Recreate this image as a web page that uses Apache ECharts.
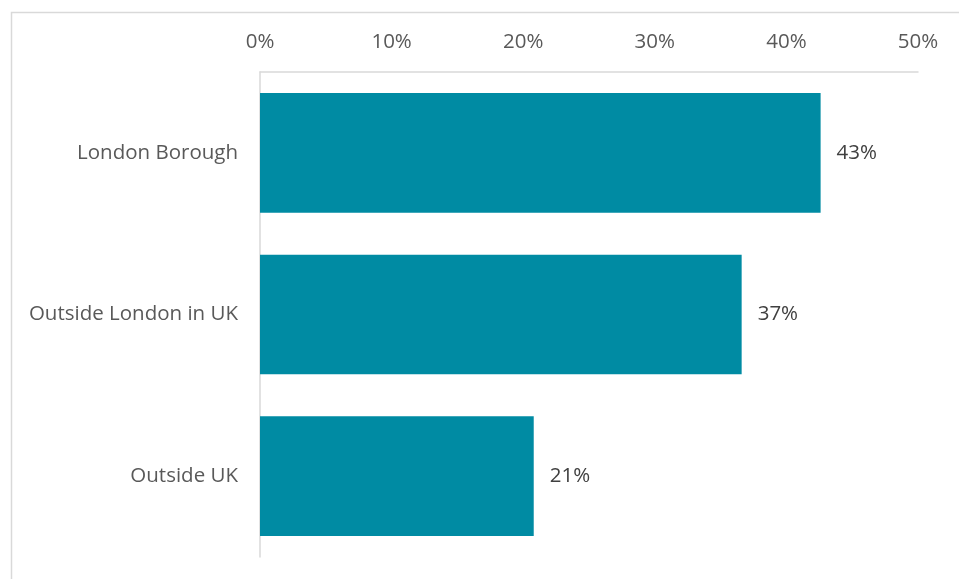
<!DOCTYPE html>
<html><head><meta charset="utf-8">
<script src="https://cdn.jsdelivr.net/npm/echarts@6/dist/echarts.min.js"></script>
<style>html,body{margin:0;padding:0;background:#fff}#c{width:959px;height:579px}</style>
</head><body><div id="c"></div>
<script>
const categories = ["London Borough", "Outside London in UK", "Outside UK"];
const values = [42.6, 36.6, 20.8];
const tickLabels = ["0%", "10%", "20%", "30%", "40%", "50%"];

const chart = echarts.init(document.getElementById('c'));
const font = 'Open Sans';
chart.setOption({
  animation: false,
  graphic: [{type:'rect', left: 9, top: 10, shape:{width: 1000, height: 1000}, style:{fill:'none', stroke:'#d9d9d9', lineWidth:1.5}, silent:true}],
  grid: {left: 260, right: 41, top: 72, bottom: 22},
  xAxis: {
    type: 'value', position: 'top', min: 0, max: 50, interval: 10,
    axisLine: {show: true, lineStyle: {color: '#d9d9d9', width: 1.5}},
    axisTick: {show: false}, splitLine: {show: false},
    axisLabel: {margin: 19, color: '#595959', fontFamily: font, fontSize: 20.5,
      formatter: v => tickLabels[Math.round(v/10)]}
  },
  yAxis: {
    type: 'category', data: categories, inverse: true,
    axisLine: {show: true, lineStyle: {color: '#d9d9d9', width: 1.5}},
    axisTick: {show: false},
    axisLabel: {margin: 22, color: '#595959', fontFamily: font, fontSize: 20.5}
  },
  series: [{
    type: 'bar', data: values, barWidth: '74%',
    itemStyle: {color: '#008ba3'},
    label: {show: true, position: 'right', distance: 16, color: '#404040', fontFamily: font, fontSize: 20.5,
      formatter: p => Math.round(p.value) + '%'}
  }]
});
</script></body></html>
